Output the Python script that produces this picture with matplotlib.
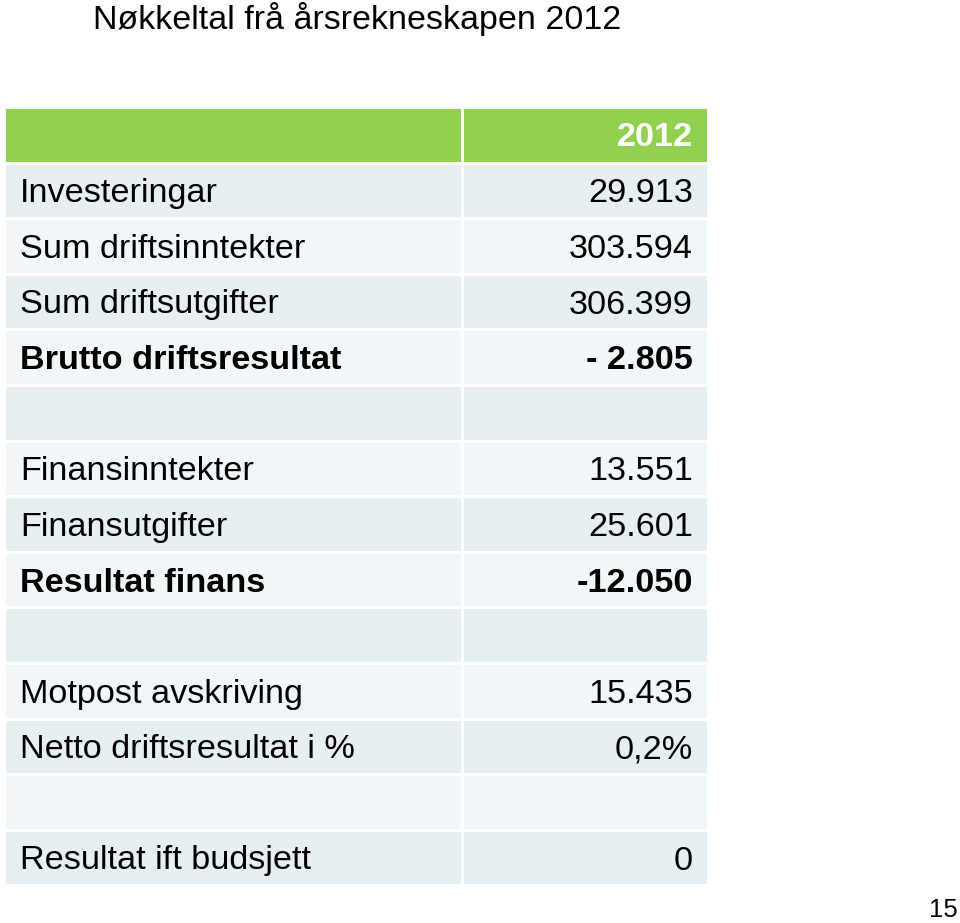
import matplotlib.pyplot as plt
from matplotlib.patches import Rectangle

plt.rcParams['font.family'] = ['Liberation Sans', 'DejaVu Sans']

# Data
title = 'Nøkkeltal frå årsrekneskapen 2012'
year = '2012'
labels = ['Investeringar', 'Sum driftsinntekter', 'Sum driftsutgifter',
          'Brutto driftsresultat', '', 'Finansinntekter', 'Finansutgifter',
          'Resultat finans', '', 'Motpost avskriving',
          'Netto driftsresultat i %', '', 'Resultat ift budsjett']
values = ['29.913', '303.594', '306.399', '- 2.805', '', '13.551', '25.601',
          '-12.050', '', '15.435', '0,2%', '', '0']
bold_rows = ['Brutto driftsresultat', 'Resultat finans']

fig = plt.figure(figsize=(9.6, 9.23), dpi=100)
ax = fig.add_axes([0, 0, 1, 1])
ax.set_xlim(0, 960)
ax.set_ylim(923, 0)
ax.axis('off')

x0, xs, x1 = 6, 462, 707
gap = 3
head_top, head_h = 109, 53
row_top, row_h = 163, 55.6

green = '#92D050'
dark = '#E6F0F3'
light = '#F1F6F9'
fs = 24.7

# header
ax.add_patch(Rectangle((x0, head_top), xs - x0 - gap / 2, head_h, color=green, lw=0))
ax.add_patch(Rectangle((xs + gap / 2, head_top), x1 - xs - gap / 2, head_h, color=green, lw=0))
ax.text(693, head_top + head_h / 2 + 2, year, ha='right', va='center',
        fontsize=fs, fontweight='bold', color='white')

for i, (lab, val) in enumerate(zip(labels, values)):
    y = row_top + i * row_h
    c = dark if i % 2 == 0 else light
    ax.add_patch(Rectangle((x0, y + gap / 2), xs - x0 - gap / 2, row_h - gap, color=c, lw=0))
    ax.add_patch(Rectangle((xs + gap / 2, y + gap / 2), x1 - xs - gap / 2, row_h - gap, color=c, lw=0))
    w = 'bold' if lab in bold_rows else 'normal'
    ax.text(20, y + row_h / 2 + 3, lab, ha='left', va='center',
            fontsize=fs, fontweight=w, color='black')
    ax.text(693, y + row_h / 2 + 3, val, ha='right', va='center',
            fontsize=fs, fontweight=w, color='black')

ax.text(93, 19, title, ha='left', va='center', fontsize=24.5, color='black')
ax.text(958, 910, '15', ha='right', va='center', fontsize=18.5, color='black')

fig.savefig('out.png', dpi=100)
plt.close(fig)
